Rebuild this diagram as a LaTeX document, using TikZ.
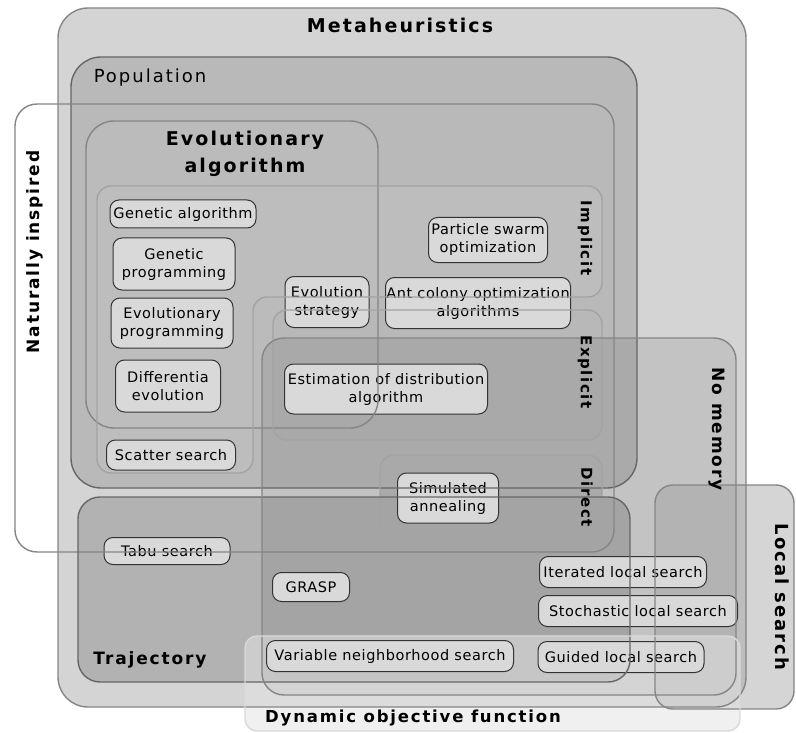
\documentclass[tikz,border=0pt]{standalone}
\usepackage{fontspec}
\setmainfont{DejaVu Sans}
\usepackage{tikz}

\definecolor{metafill}{gray}{0.83}
\definecolor{popfill}{gray}{0.725}
\definecolor{evofill}{gray}{0.735}
\definecolor{implfill}{gray}{0.74}
\definecolor{explfill}{gray}{0.72}
\definecolor{trajfill}{gray}{0.70}
\definecolor{locfill}{gray}{0.63}
\definecolor{dynfill}{gray}{0.89}
\definecolor{leaffill}{gray}{0.85}
\definecolor{edgedark}{gray}{0.40}
\definecolor{edgemid}{gray}{0.52}
\definecolor{edgelight}{gray}{0.64}

\newcommand{\leaffont}{\fontsize{14.5}{18}\selectfont\addfontfeature{LetterSpace=4}}

\tikzset{
  leaf/.style={draw=black!80, fill=leaffill, line width=1pt, rounded corners=9pt,
    inner sep=0pt, align=center, font=\leaffont},
  boxsize/.style 2 args={minimum width=#1pt, minimum height=#2pt},
  outline/.style={line width=1.4pt},
  heading/.style={font=\fontsize{#1}{#1}\selectfont\bfseries\addfontfeature{LetterSpace=11}},
  heading/.default=18,
}

\begin{document}
\begin{tikzpicture}[x=1pt, y=-1pt, line cap=round, line join=round]
  \useasboundingbox (0,0) rectangle (796,733);

  % Esquinas de las regiones
  \coordinate (meta-a)  at (58,8);    \coordinate (meta-b)  at (746,707);
  \coordinate (pop-a)   at (71,57);   \coordinate (pop-b)   at (637,488);
  \coordinate (nat-a)   at (15,104);  \coordinate (nat-b)   at (614,552);
  \coordinate (evo-a)   at (86,121);  \coordinate (evo-b)   at (378,428);
  \coordinate (expl-a)  at (273,310); \coordinate (expl-b)  at (602,440);
  \coordinate (dir-a)   at (380,455); \coordinate (dir-b)   at (602,538);
  \coordinate (traj-a)  at (78,497);  \coordinate (traj-b)  at (630,682);
  \coordinate (nomem-a) at (262,338); \coordinate (nomem-b) at (736,695);
  \coordinate (loc-a)   at (655,485); \coordinate (loc-b)   at (794,709);
  \coordinate (dyn-a)   at (245,636); \coordinate (dyn-b)   at (740,731);

  % Fondos
  \fill[white, rounded corners=22pt] (nat-a) rectangle (nat-b);
  \fill[metafill, rounded corners=30pt] (meta-a) rectangle (meta-b);
  \fill[popfill, rounded corners=30pt] (pop-a) rectangle (pop-b);
  \fill[evofill, rounded corners=28pt] (evo-a) rectangle (evo-b);
  \fill[implfill, rounded corners=14pt] (97,186) -- (602,186) -- (602,297)
    -- (253,297) -- (253,473) -- (97,473) -- cycle;
  \fill[explfill, rounded corners=14pt] (expl-a) rectangle (expl-b);
  \fill[explfill, rounded corners=14pt] (dir-a) rectangle (dir-b);
  \fill[trajfill, rounded corners=22pt] (traj-a) rectangle (traj-b);
  \fill[black, fill opacity=0.08, rounded corners=22pt] (nomem-a) rectangle (nomem-b);
  \fill[locfill, fill opacity=0.45, rounded corners=18pt] (loc-a) rectangle (loc-b);
  \fill[dynfill, fill opacity=0.55, rounded corners=12pt] (dyn-a) rectangle (dyn-b);

  % Metodos
  \node[leaf, boxsize={146}{28}] (ga)    at (183,214) {Genetic algorithm};
  \node[leaf, boxsize={122}{52}] (gp)    at (174,264) {Genetic\\programming};
  \node[leaf, boxsize={122}{50}] (ep)    at (172,323) {Evolutionary\\programming};
  \node[leaf, boxsize={105}{52}] (de)    at (168,386) {Differentia\\evolution};
  \node[leaf, boxsize={129}{30}] (ss)    at (171,455) {Scatter search};
  \node[leaf, boxsize={84}{51}]  (es)    at (327,302) {Evolution\\strategy};
  \node[leaf, boxsize={185}{51}] (aco)   at (478,303) {Ant colony optimization\\algorithms};
  \node[leaf, boxsize={119}{45}] (pso)   at (488,240) {Particle swarm\\optimization};
  \node[leaf, boxsize={203}{50}] (eda)   at (386,389) {Estimation of distribution\\algorithm};
  \node[leaf, boxsize={101}{50}] (sa)    at (448,498) {Simulated\\annealing};
  \node[leaf, boxsize={126}{27}] (ts)    at (167,551) {Tabu search};
  \node[leaf, boxsize={77}{29}]  (grasp) at (311,587) {GRASP};
  \node[leaf, boxsize={167}{31}] (ils)   at (623,572) {Iterated local search};
  \node[leaf, boxsize={199}{31}] (sls)   at (638,611) {Stochastic local search};
  \node[leaf, boxsize={247}{31}] (vns)   at (390,656) {Variable neighborhood search};
  \node[leaf, boxsize={166}{31}] (gls)   at (621,657) {Guided local search};

  % Bordes
  \draw[outline, edgemid, rounded corners=30pt] (meta-a) rectangle (meta-b);
  \draw[outline, edgedark, rounded corners=30pt] (pop-a) rectangle (pop-b);
  \draw[outline, edgemid, rounded corners=22pt] (nat-a) rectangle (nat-b);
  \draw[outline, edgemid, rounded corners=28pt] (evo-a) rectangle (evo-b);
  \draw[outline, edgelight, rounded corners=14pt] (97,186) -- (602,186) -- (602,297)
    -- (253,297) -- (253,473) -- (97,473) -- cycle;
  \draw[outline, edgelight, rounded corners=14pt] (expl-a) rectangle (expl-b);
  \draw[outline, edgelight, rounded corners=14pt] (dir-a) rectangle (dir-b);
  \draw[outline, edgedark, rounded corners=22pt] (traj-a) rectangle (traj-b);
  \draw[outline, edgemid, rounded corners=22pt] (nomem-a) rectangle (nomem-b);
  \draw[outline, edgemid, rounded corners=18pt] (loc-a) rectangle (loc-b);
  \draw[outline, white!85!black, rounded corners=12pt] (dyn-a) rectangle (dyn-b);

  % Titulos
  \node[heading=19] (meta-t) at (400,25) {Metaheuristics};
  \node[font=\fontsize{18}{18}\selectfont\addfontfeature{LetterSpace=11}] (pop-t) at (150,78) {Population};
  \node[heading=19, align=center] (evo-t) at (245,154) {Evolutionary\\[8pt]algorithm};
  \node[heading=17, rotate=90] (nat-t) at (35,252) {Naturally inspired};
  \node[heading=15, rotate=-90] (impl-t) at (585,238) {Implicit};
  \node[heading=15, rotate=-90] (expl-t) at (585,372) {Explicit};
  \node[heading=15, rotate=-90] (dir-t) at (587,497) {Direct};
  \node[heading=17, rotate=-90] (nomem-t) at (717,429) {No memory};
  \node[heading=18, rotate=-90] (loc-t) at (782,597) {Local search};
  \node[heading=17] (traj-t) at (150,660) {Trajectory};
  \node[heading=16.5] (dyn-t) at (413,718) {Dynamic objective function};
\end{tikzpicture}
\end{document}
